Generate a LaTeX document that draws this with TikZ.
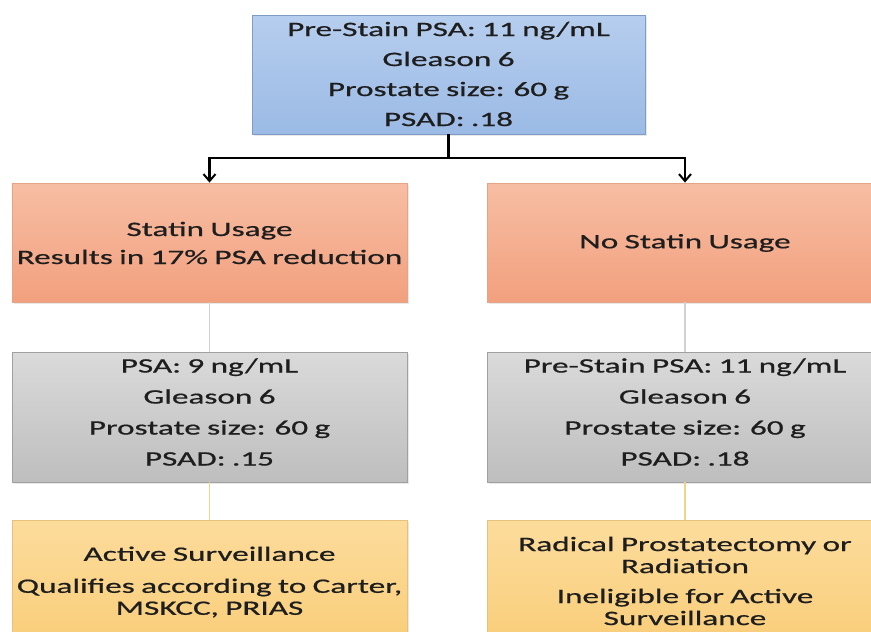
\documentclass[tikz,border=0pt]{standalone}
\usepackage{fontspec}
\newfontfamily\boxfont[FakeStretch=1.62,FakeBold=0.7,WordSpace=0.85]{Carlito}
\usetikzlibrary{arrows.meta,shadows}
\definecolor{bluetop}{HTML}{B6CEEE}
\definecolor{bluebot}{HTML}{9BBAE5}
\definecolor{blueedge}{HTML}{7E9CC6}
\definecolor{orgtop}{HTML}{F7BEA3}
\definecolor{orgbot}{HTML}{F2A07E}
\definecolor{orgedge}{HTML}{E5A585}
\definecolor{graytop}{HTML}{DADADA}
\definecolor{graybot}{HTML}{BEBEBE}
\definecolor{grayedge}{HTML}{A0A0A0}
\definecolor{yeltop}{HTML}{FCDC9C}
\definecolor{yelbot}{HTML}{F9CD78}
\definecolor{yeledge}{HTML}{E8C07A}
\definecolor{txtcol}{HTML}{1E1E1E}
\definecolor{glink}{HTML}{D2D2D2}
\definecolor{ylink}{HTML}{F3D487}
\tikzset{
  boxbase/.style={rectangle, draw, line width=0.8pt, inner sep=0pt,
    drop shadow={opacity=0.18, shadow xshift=1.5pt, shadow yshift=-1.5pt}},
  bluebox/.style={boxbase, top color=bluetop, bottom color=bluebot, draw=blueedge},
  orgbox/.style={boxbase, top color=orgtop, bottom color=orgbot, draw=orgedge},
  graybox/.style={boxbase, top color=graytop, bottom color=graybot, draw=grayedge},
  yelbox/.style={boxbase, top color=yeltop, bottom color=yelbot, draw=yeledge},
  txt/.style={align=center, inner sep=0pt, text=txtcol,
    font=\boxfont\fontsize{20.5}{30}\selectfont},
  txtb/.style={align=center, inner sep=0pt, text=txtcol,
    font=\boxfont\fontsize{20.5}{22}\selectfont},
  mainconn/.style={draw=black, line width=2.2pt},
  arrowconn/.style={mainconn, -{Straight Barb[length=7pt,width=12pt,line width=2pt]}},
  grayconn/.style={draw=glink, line width=1.3pt},
  yelconn/.style={draw=ylink, line width=1.3pt}
}
\begin{document}
\begin{tikzpicture}[x=1pt,y=-1pt]
\useasboundingbox (0,0) rectangle (871,632);
\fill[white] (0,0) rectangle (871,632);
\clip (0,0) rectangle (871,632);

% boxes
\node[bluebox, minimum width=393pt, minimum height=119pt] (top) at (448.5,74.5) {};
\node[orgbox, minimum width=395pt, minimum height=119pt] (o1) at (209.5,242.5) {};
\node[orgbox, minimum width=395pt, minimum height=119pt] (o2) at (685,242.5) {};
\node[graybox, minimum width=395pt, minimum height=130pt] (g1) at (209.5,417) {};
\node[graybox, minimum width=395pt, minimum height=130pt] (g2) at (685,417) {};
\node[yelbox, minimum width=395pt, minimum height=130pt] (y1) at (209.5,585) {};
\node[yelbox, minimum width=395pt, minimum height=130pt] (y2) at (685,585) {};

% texts
\node[txt] (toptext) at (448.5,74) {Pre-Stain PSA: 11 ng/mL\\Gleason 6\\Prostate size: 60 g\\PSAD: .18};
\node[txtb, font=\boxfont\fontsize{20.5}{28}\selectfont] (o1text) at (209.5,243) {Statin Usage\\Results in 17\% PSA reduction};
\node[txt] (o2text) at (685,243) {No Statin Usage};
\node[txt, font=\boxfont\fontsize{20.5}{31}\selectfont] (g1text) at (209.5,412) {PSA: 9 ng/mL\\Gleason 6\\Prostate size: 60 g\\PSAD: .15};
\node[txt, font=\boxfont\fontsize{20.5}{31}\selectfont] (g2text) at (685,412) {Pre-Stain PSA: 11 ng/mL\\Gleason 6\\Prostate size: 60 g\\PSAD: .18};
\node[txtb] (y1text) at (209.5,582) {Active Surveillance\\[10pt]Qualifies according to Carter,\\MSKCC, PRIAS};
\node[txtb] (y2text) at (685,581) {Radical Prostatectomy or\\Radiation\\[8pt]Ineligible for Active\\Surveillance};

% connectors
\coordinate (j) at (448.5,158);
\draw[mainconn] (top.south) -- (j);
\draw[arrowconn] (j) -| (o1.north);
\draw[arrowconn] (j) -| (o2.north);
\draw[grayconn] (o1.south) -- (g1.north);
\draw[grayconn] (o2.south) -- (g2.north);
\draw[yelconn] (g1.south) -- (y1.north);
\draw[yelconn] (g2.south) -- (y2.north);
\end{tikzpicture}
\end{document}
